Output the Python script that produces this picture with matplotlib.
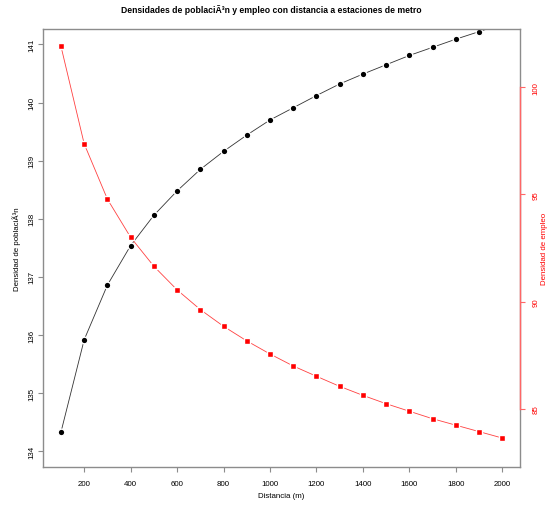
import numpy as np
import matplotlib
matplotlib.use('Agg')
import matplotlib.pyplot as plt

plt.rcParams['font.family'] = ['Liberation Sans', 'DejaVu Sans']

# distancia a la estacion (m)
distancia = [100, 200, 300, 400, 500, 600, 700, 800, 900, 1000,
             1100, 1200, 1300, 1400, 1500, 1600, 1700, 1800, 1900, 2000]
# densidad de poblacion (eje izquierdo)
poblacion = [134.33, 135.92, 136.86, 137.54, 138.06, 138.48, 138.85, 139.16, 139.44, 139.70,
             139.91, 140.12, 140.32, 140.49, 140.65, 140.81, 140.95, 141.09, 141.22, 141.35]
# densidad de empleo (eje derecho)
empleo = [101.91, 97.36, 94.78, 93.00, 91.65, 90.55, 89.63, 88.85, 88.17, 87.56,
          87.00, 86.52, 86.05, 85.63, 85.24, 84.89, 84.54, 84.24, 83.94, 83.64]

xticks = [200, 400, 600, 800, 1000, 1200, 1400, 1600, 1800, 2000]
yticks_pob = [134, 135, 136, 137, 138, 139, 140, 141]
yticks_emp = [85, 90, 95, 100]

titulo = 'Densidades de poblaci\u00c3\u00b3n y empleo con distancia a estaciones de metro'

fig = plt.figure(figsize=(5.51, 5.06), dpi=100)
ax = fig.add_axes([0.0786, 0.0751, 0.8651, 0.8662])
ax2 = ax.twinx()

box = '#8c8c8c'
ax.plot(distancia, poblacion, color='#333333', lw=0.6, marker='o', ms=4.8,
        mfc='black', mec='white', mew=1.0)
ax2.plot(distancia, empleo, color='#ff4040', lw=0.6, marker='s', ms=4.0,
         mfc='red', mec='white', mew=1.0)

ax.set_xlim(24, 2076)
ax.set_ylim(133.73, 141.27)
ax2.set_ylim(82.29, 102.73)

ax.set_xticks(xticks)
ax.set_yticks(yticks_pob)
ax2.set_yticks(yticks_emp)

for s in ax.spines.values():
    s.set_color(box)
    s.set_linewidth(1.0)
for s in ['top', 'bottom', 'left']:
    ax2.spines[s].set_visible(False)
ax2.spines['right'].set_color('#ff6666')
ax2.spines['right'].set_bounds(85, 100)
ax2.spines['right'].set_linewidth(1.0)

fs = 5.7
ax.tick_params(axis='both', direction='out', length=3.5, width=0.8, color=box,
               labelsize=fs, pad=6)
ax.tick_params(axis='y', labelrotation=90, pad=2.5)
ax2.tick_params(axis='y', direction='out', length=3.5, width=0.8, color='#ff6666',
                labelcolor='red', labelsize=fs, pad=5.5, labelrotation=90)
for lab in ax.get_yticklabels() + ax2.get_yticklabels():
    lab.set_va('center')

ax.set_xlabel('Distancia (m)', fontsize=fs, labelpad=3.5)
ax.set_ylabel('Densidad de poblaci\u00c3\u00b3n', fontsize=fs)
ax2.set_ylabel('Densidad de empleo', fontsize=fs, color='red')
ax.yaxis.set_label_coords(-0.047, 0.5)
ax2.yaxis.set_label_coords(1.044, 0.5)
fig.text(0.493, 1 - 10.5 / 506, titulo, fontsize=6.25, fontweight='bold',
         ha='center', va='center')

fig.savefig('out.png', dpi=100)
